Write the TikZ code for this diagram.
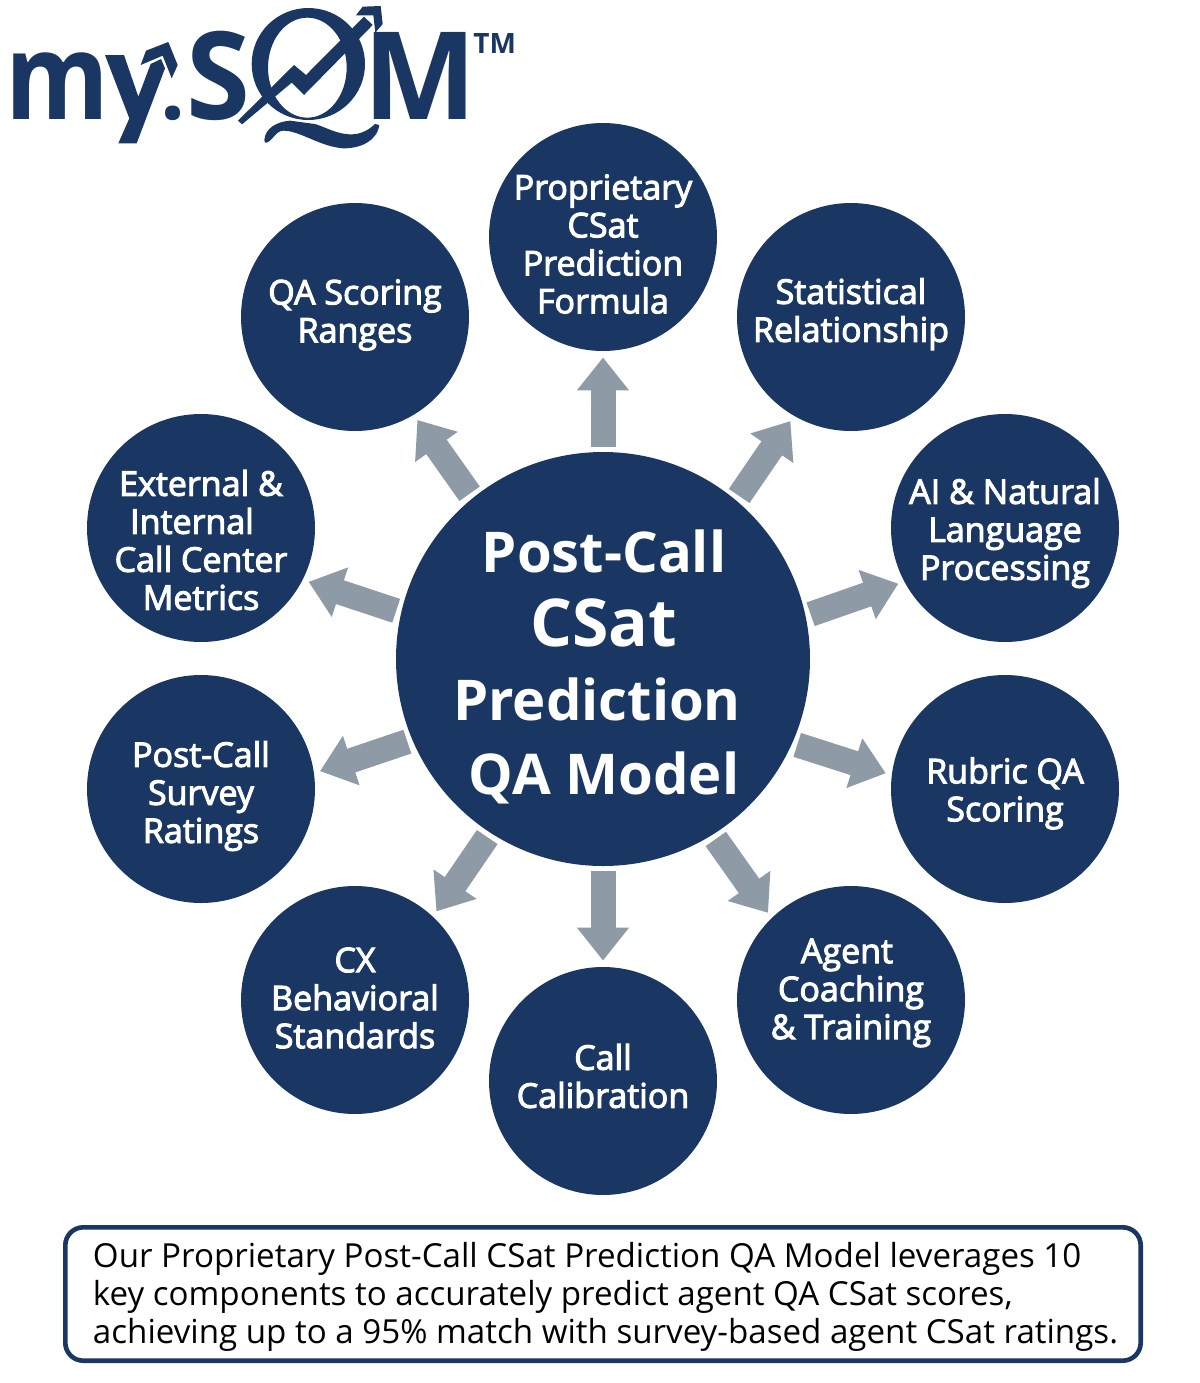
\documentclass[tikz,border=0pt]{standalone}
\usepackage{fontspec}
\setmainfont{Open Sans}
\newfontfamily\semifont{Open Sans}[FakeBold=3]
\usetikzlibrary{arrows.meta}

\begin{document}
\begin{tikzpicture} [x=0.5pt,y=-0.5pt,
    spoke/.style={circle,fill=navy,minimum size=114pt,inner sep=0pt},
    spoketext/.style={text=white,align=center,font=\semifont\fontsize{17}{19}\selectfont},
    hub/.style={circle,fill=navy,minimum size=207pt,inner sep=0pt},
    hubtext/.style={text=white,align=center,font=\bfseries\fontsize{28.1}{37}\selectfont},
    flow/.style={draw=slate,line width=12.5pt,-{Triangle[length=16.5pt,width=25pt]},shorten <=2.5pt,shorten >=3pt},
    frame/.style={draw=navy,line width=2.3pt,rounded corners=9pt,fill=white,minimum width=537.7pt,minimum height=66.7pt,inner sep=0pt},
    frametext/.style={align=left,font=\fontsize{16.56}{19}\selectfont},
    logotext/.style={anchor=base west,inner sep=0pt,text=navy}]
    % colours and page %
    \definecolor{navy}{HTML}{1A3763}
    \definecolor{slate}{HTML}{8E9BA6}
    \useasboundingbox (0,0) rectangle (1200,1383);

    % circles %
    \node[hub,label={[hubtext,xshift=0.5pt,yshift=-4pt]center:Post-Call\\{\fontsize{33}{37}\selectfont CSat}\\Prediction\rule{7pt}{0pt}\\QA Model}] (model) at (603,659) {};
    \node[spoke,label={[spoketext,yshift=-3.5pt]center:Proprietary\\CSat\\Prediction\\Formula}] (formula) at (603,237) {};
    \node[spoke,label={[spoketext,yshift=1.5pt]center:Statistical\\Relationship}] (stats) at (851,317) {};
    \node[spoke,label={[spoketext,yshift=-2.5pt]center:AI \& Natural\\Language\\Processing}] (language) at (1005,528) {};
    \node[spoke,label={[spoketext,yshift=-2.2pt]center:Rubric QA\\Scoring}] (rubric) at (1005,789) {};
    \node[spoke,label={[spoketext,yshift=3.5pt]center:Agent\rule{4pt}{0pt}\\Coaching\\\& Training}] (coaching) at (851,1000) {};
    \node[spoke,label={[spoketext,yshift=2.5pt]center:Call\\Calibration}] (calibration) at (603,1081) {};
    \node[spoke,label={[spoketext,yshift=1pt]center:CX\\Behavioral\\Standards}] (standards) at (355,1000) {};
    \node[spoke,label={[spoketext,yshift=-3.5pt]center:Post-Call\\Survey\\Ratings}] (survey) at (201,789) {};
    \node[spoke,label={[spoketext,yshift=-6pt]center:External \&\\Internal\rule{9pt}{0pt}\\Call Center\\Metrics}] (metrics) at (201,528) {};
    \node[spoke,label={[spoketext,yshift=1pt]center:QA Scoring\\Ranges}] (ranges) at (355,317) {};

    % arrows %
    \draw[flow] (model.90) -- (formula.-90);
    \draw[flow] (model.50.7) -- (stats.240.4);
    \draw[flow] (model.12.2) -- (language.208.8);
    \draw[flow] (model.-24.4) -- (rubric.173.7);
    \draw[flow] (model.-58.5) -- (coaching.134.2);
    \draw[flow] (model.-90) -- (calibration.90);
    \draw[flow] (model.237.7) -- (standards.47.5);
    \draw[flow] (model.203.8) -- (survey.8.1);
    \draw[flow] (model.167.6) -- (metrics.-27.9);
    \draw[flow] (model.129.3) -- (ranges.-59.9);

    % note %
    \node[frame,label={[frametext,xshift=1.25pt,yshift=-1.5pt]center:Our Proprietary Post-Call CSat Prediction QA Model leverages 10\\key components to accurately predict agent QA CSat scores,\\achieving up to a 95\% match with survey-based agent CSat ratings.}] (note) at (603,1294) {};

    % logo %
    \node[logotext,font=\bfseries\fontsize{60}{60}\selectfont] (logom) at (5,119.5) {\scalebox{0.88}[1]{m}};
    \node[logotext,font=\bfseries\fontsize{44}{44}\selectfont] (logodot) at (160,119.5) {.};
    \node[logotext,font=\bfseries\fontsize{61}{61}\selectfont] (logos) at (186,119.5) {\scalebox{0.95}[1]{S}};
    \node[logotext,font=\bfseries\fontsize{61}{61}\selectfont] (logoq) at (363,119.5) {\scalebox{0.985}[1]{M}};
    \node[logotext,font=\bfseries\fontsize{14}{14}\selectfont] (logotm) at (473,53) {TM};
    \begin{scope}[x=0.16667pt,y=-0.16667pt,fill=navy]
      % y with its arrow %
      \fill (315,165) -- (372,165) -- (415,290) -- (452,192) -- (483,177) -- (495,205) -- (410,430) -- (355,430) -- (388,355) -- cycle;
      \fill (422,195) -- (438,152) -- (505,126) -- (533,195) -- (515,235) -- (488,167) -- cycle;
      % Q ring and tail %
      \fill[even odd rule] (925,192) ellipse (170 and 168) (922,203) ellipse (118 and 150);
      \fill (793,420) .. controls (795,385) and (830,365) .. (870,362) -- (945,372) .. controls (990,385) and (1060,435) .. (1125,372) -- (1138,375) .. controls (1130,425) and (1080,445) .. (1030,445) .. controls (960,440) and (900,392) .. (850,392) .. controls (825,392) and (815,430) .. (795,428) -- cycle;
      % trend arrow %
      \fill (714,362) -- (882,195) -- (918,225) -- (1092,50) -- (1118,75) -- (1037,158) -- (912,285) -- (875,248) -- (726,373) -- cycle;
      \fill (1068,46) -- (1088,20) -- (1142,18) -- (1148,72) -- (1126,98) -- (1120,46) -- cycle;
    \end{scope}
\end{tikzpicture}
\end{document}
